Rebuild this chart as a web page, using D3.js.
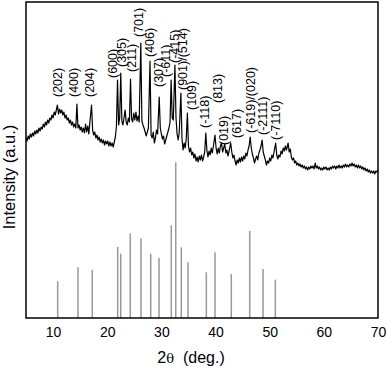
<!DOCTYPE html>
<html>
<head>
<meta charset="utf-8">
<script src="https://cdn.jsdelivr.net/npm/d3@7"></script>
<style>
  body { margin: 0; background: #fff; }
  svg { display: block; font-family: "Liberation Sans", Arial, sans-serif; }
</style>
</head>
<body>
<svg></svg>
<script>
// measured pattern, [2theta, intensity a.u.]
let scan = [
  [5.0,180],[5.2,177],[5.4,182],[5.6,179],[5.8,184],[6.0,181],[6.2,185],[6.4,182],[6.6,187],[6.8,184],
  [7.0,188],[7.2,185],[7.4,190],[7.6,187],[7.8,191],[8.0,189],[8.2,194],[8.4,191],[8.6,196],[8.8,193],
  [9.0,198],[9.2,195],[9.4,200],[9.6,198],[9.8,203],[10.0,200],[10.2,206],[10.4,203],[10.6,208],[10.8,213],
  [11.0,204],[11.2,209],[11.4,205],[11.6,208],[11.8,203],[12.0,206],[12.2,200],[12.4,203],[12.6,198],[12.8,200],
  [13.0,195],[13.2,198],[13.4,193],[13.6,196],[13.8,191],[14.0,194],[14.2,190],[14.4,214],[14.6,190],[14.8,193],
  [15.0,188],[15.2,191],[15.4,186],[15.6,190],[15.8,185],[16.0,194],[16.2,186],[16.4,192],[16.6,184],[16.8,196],
  [17.1,213],[17.3,188],[17.5,183],[17.7,186],[17.9,180],[18.1,183],[18.3,178],[18.5,181],[18.7,176],[18.9,179],
  [19.1,175],[19.3,178],[19.5,173],[19.7,177],[19.9,174],[20.1,177],[20.3,172],[20.5,176],[20.7,172],[20.9,175],
  [21.1,171],[21.3,176],[21.5,181],[21.7,192],[21.9,238],[22.1,193],[22.3,200],[22.5,245],[22.7,197],[22.9,193],
  [23.1,200],[23.3,208],[23.5,196],[23.7,193],[23.9,200],[24.1,196],[24.3,239],[24.5,199],[24.7,196],[24.9,205],
  [25.1,198],[25.3,206],[25.5,197],[25.7,202],[25.9,196],[26.2,275],[26.4,197],[26.6,193],[26.8,190],[27.0,186],
  [27.2,182],[27.4,186],[27.6,190],[27.9,257],[28.1,183],[28.3,180],[28.5,186],[28.7,175],[28.9,180],[29.1,188],
  [29.3,184],[29.6,221],[29.8,190],[30.0,184],[30.2,179],[30.4,182],[30.6,174],[30.8,178],[31.0,182],[31.2,186],
  [31.4,190],[31.6,196],[31.8,238],[32.0,200],[32.2,198],[32.5,253],[32.7,200],[32.9,184],[33.1,178],[33.3,186],
  [33.6,225],[33.8,180],[34.0,168],[34.2,175],[34.4,170],[34.6,180],[34.8,205],[35.0,172],[35.2,166],[35.4,170],
  [35.6,163],[35.8,166],[36.0,160],[36.2,164],[36.4,157],[36.6,161],[36.8,156],[37.0,162],[37.2,158],[37.4,163],
  [37.6,157],[37.8,161],[38.0,166],[38.2,185],[38.4,168],[38.6,161],[38.8,167],[39.0,163],[39.2,170],[39.4,165],
  [39.6,172],[39.9,183],[40.1,170],[40.3,164],[40.5,170],[40.7,165],[40.9,172],[41.1,175],[41.3,166],[41.5,170],
  [41.7,174],[41.9,165],[42.1,168],[42.3,162],[42.5,167],[42.8,175],[43.0,166],[43.2,160],[43.4,163],[43.6,157],
  [43.8,153],[44.0,158],[44.2,155],[44.4,160],[44.6,156],[44.8,161],[45.0,157],[45.2,162],[45.4,159],[45.6,165],
  [45.8,162],[46.0,168],[46.2,172],[46.4,181],[46.6,170],[46.8,164],[47.0,160],[47.2,155],[47.4,159],[47.6,162],
  [47.8,158],[48.0,165],[48.2,168],[48.4,172],[48.6,178],[48.8,166],[49.0,162],[49.2,158],[49.4,153],[49.6,157],
  [49.8,155],[50.0,160],[50.2,157],[50.4,163],[50.6,160],[50.8,166],[51.1,175],[51.3,163],[51.5,159],[51.7,163],
  [51.9,161],[52.1,167],[52.3,164],[52.5,170],[52.7,167],[52.9,172],[53.1,168],[53.4,175],[53.6,166],[53.8,169],
  [54.0,161],[54.2,158],[54.4,160],[54.6,155],[54.8,157],[55.0,153],[55.2,155],[55.4,152],[55.6,154],[55.8,151],
  [56.0,153],[56.2,150],[56.4,152],[56.6,149],[56.8,151],[57.0,148],[57.2,151],[57.4,149],[57.6,152],[57.8,150],
  [58.0,152],[58.2,149],[58.4,155],[58.6,150],[58.8,152],[59.0,149],[59.2,151],[59.4,148],[59.6,150],[59.8,148],
  [60.0,151],[60.2,149],[60.4,151],[60.6,148],[60.8,150],[61.0,148],[61.2,151],[61.4,149],[61.6,152],[61.8,150],
  [62.0,152],[62.2,149],[62.4,152],[62.6,150],[62.8,153],[63.0,150],[63.2,152],[63.4,150],[63.6,153],[63.8,151],
  [64.0,154],[64.2,151],[64.4,153],[64.6,151],[64.8,154],[65.0,152],[65.2,155],[65.4,152],[65.6,154],[65.8,151],
  [66.0,153],[66.2,150],[66.4,153],[66.6,150],[66.8,152],[67.0,149],[67.2,151],[67.4,148],[67.6,150],[67.8,147],
  [68.0,149],[68.2,146],[68.4,148],[68.6,145],[68.8,147],[69.0,145],[69.2,147],[69.4,144],[69.6,147],[69.8,146],
  [70.0,148]
]

// reference pattern sticks
let refAngles = [10.85, 14.6, 17.24, 21.93, 22.49, 24.26, 26.24, 28.03, 29.56, 31.83, 32.65, 33.68, 34.92, 38.3, 39.9, 42.91, 46.31, 48.77, 51.04]
let refIntensity = [23.6, 32.6, 31.0, 45.6, 41.3, 54.4, 51.2, 41.3, 38.5, 59.5, 100, 45.4, 35.8, 29.4, 42.2, 28.3, 55.9, 31.5, 24.6]

// peak labels, anchored at [2theta, intensity] of the text start
let peakNames = ['(202)', '(400)', '(204)', '(600)', '(305)', '(211)', '(701)', '(406)', '(307)', '(-611)',
  '(-415)', '(901)/(514)', '(109)', '(-118)', '(813)', '(019)', '(617)', '(-619)/(020)', '(-2111)', '(-7110)']
let peakLabelAngles = [10.85, 13.73, 16.82, 21.01, 22.67, 24.45, 25.87, 27.77, 29.43, 30.85,
  32.52, 33.94, 35.6, 38.06, 40.46, 41.56, 43.91, 46.5, 48.71, 51.17]
let peakLabelLevels = [221, 221, 221, 240, 251, 246, 281, 261, 231, 241,
  255, 228, 208, 190, 215, 173, 180, 185, 183, 178]

let xTicks = [10, 20, 30, 40, 50, 60, 70]

let width = 387
let height = 372
let plotLeft = 26
let plotRight = 378
let plotTop = 2
let plotBottom = 318

let svg = d3.select('svg')
  .attr('width', width)
  .attr('height', height)

let xScale = d3.scaleLinear().domain([5, 70]).range([plotLeft, plotRight])
let yScale = d3.scaleLinear().domain([0, 316]).range([plotBottom, plotTop])
let stickScale = d3.scaleLinear().domain([0, 100]).range([plotBottom, 162.3])

// sticks
svg.append('g')
  .selectAll('line')
  .data(refAngles)
  .enter()
  .append('line')
  .attr('x1', (d) => xScale(d))
  .attr('x2', (d) => xScale(d))
  .attr('y1', plotBottom)
  .attr('y2', (d, i) => stickScale(refIntensity[i]))
  .attr('stroke', '#999')
  .attr('stroke-width', 1.5)

// measured pattern
let line = d3.line()
  .x((d) => xScale(d[0]))
  .y((d) => yScale(d[1]))

svg.append('path')
  .datum(scan)
  .attr('d', line)
  .attr('fill', 'none')
  .attr('stroke', '#000')
  .attr('stroke-width', 1.2)
  .attr('stroke-linejoin', 'round')

// frame
svg.append('rect')
  .attr('x', plotLeft)
  .attr('y', plotTop)
  .attr('width', plotRight - plotLeft)
  .attr('height', plotBottom - plotTop)
  .attr('fill', 'none')
  .attr('stroke', '#000')
  .attr('stroke-width', 1.5)

// x axis labels, no tick marks
let xAxis = d3.axisBottom(xScale)
  .tickValues(xTicks)
  .tickSize(0)
  .tickPadding(9)

let gx = svg.append('g')
  .attr('transform', 'translate(0,' + plotBottom + ')')
  .call(xAxis)
gx.select('.domain').remove()
gx.selectAll('text')
  .style('font-size', '14px')
  .style('font-family', '"Liberation Sans", Arial, sans-serif')
  .attr('fill', '#000')

// peak labels
svg.append('g')
  .selectAll('text')
  .data(peakNames)
  .enter()
  .append('text')
  .attr('transform', (d, i) => 'translate(' + xScale(peakLabelAngles[i]) + ',' + yScale(peakLabelLevels[i]) + ') rotate(-90)')
  .attr('dy', '0.35em')
  .style('font-size', '12.5px')
  .text((d) => d)

// axis titles
let xTitle = svg.append('text')
  .attr('x', 191)
  .attr('y', 363)
  .style('text-anchor', 'middle')
  .style('font-size', '16px')
  .style('white-space', 'pre')
xTitle.append('tspan').text('2')
xTitle.append('tspan').style('font-family', '"DejaVu Serif", serif').style('font-size', '13px').text('θ')
xTitle.append('tspan').text('  (deg.)')

svg.append('text')
  .attr('transform', 'translate(15,' + 177 + ') rotate(-90)')
  .style('text-anchor', 'middle')
  .style('font-size', '16.5px')
  .text('Intensity (a.u.)')
</script>
</body>
</html>
